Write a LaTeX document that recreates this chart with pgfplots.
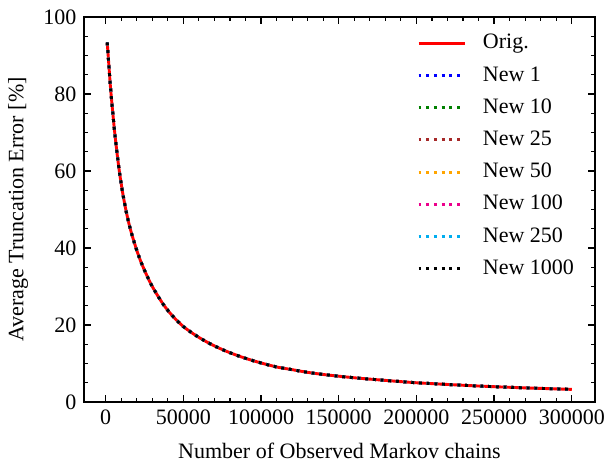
\documentclass[border=0pt]{standalone}
\usepackage{pgfplots}
\usepackage{pgfplotstable}
\pgfplotsset{compat=1.18}
\usepackage{fontspec}
\setmainfont{Liberation Serif}
\definecolor{cbrown}{rgb}{0.65,0.16,0.16}
\definecolor{corange}{rgb}{1,0.647,0}
\definecolor{cgreen}{rgb}{0,0.5,0}
\pgfplotstableread{
x y
1000 93.4
2000 87.8
3000 82.2
4000 77.6
5000 73.3
6000 69.3
7500 64.0
9000 59.3
11000 54.2
13000 49.9
15000 46.3
17000 43.3
20000 39.4
22500 36.6
25000 34.2
27500 32.0
30000 30.0
33500 27.6
37000 25.4
41000 23.3
45500 21.3
50000 19.6
55000 18.1
60000 16.78
65000 15.61
70000 14.57
75000 13.64
80000 12.8
85000 12.04
90000 11.35
95000 10.72
100000 10.14
110000 9.1
120000 8.4
130000 7.7
140000 7.15
150000 6.7
162500 6.2
175000 5.78
187500 5.37
200000 5.0
212500 4.72
225000 4.45
237500 4.2
250000 3.98
262500 3.78
275000 3.6
287500 3.44
300000 3.28
}\errdata
\begin{document}
\fontsize{11}{13}\selectfont
\begin{tikzpicture}
\begin{axis}[
  scale only axis,
  width=255.5pt, height=192.5pt,
  xmin=-13950, xmax=314950,
  ymin=0, ymax=100,
  xtick={0,50000,100000,150000,200000,250000,300000},
  ytick={0,20,40,60,80,100},
  minor x tick num=4,
  minor y tick num=3,
  tick align=inside,
  tick pos=both,
  major tick length=3.5pt,
  minor tick length=1.8pt,
  every tick/.style={black, line width=0.6pt},
  axis line style={line width=0.75pt},
  scaled x ticks=false,
  xticklabel style={/pgf/number format/.cd, fixed, 1000 sep={}},
  /pgf/number format/assume math mode=true,
  tick label style={font=\fontsize{11}{13}\selectfont},
  label style={font=\fontsize{11}{13}\selectfont},
  xlabel={Number of Observed Markov chains},
  xlabel style={yshift=-1.5pt},
  ylabel={Average Truncation Error [\%]},
  legend cell align=left,
  legend style={draw=none, fill=none, at={(0.651,0.96)}, anchor=north west,
    inner sep=0pt, row sep=5.6pt, column sep=8.5pt,
    nodes={inner sep=0pt, text height=8pt, text depth=2.5pt},
    font=\fontsize{11}{13}\selectfont},
  legend image code/.code={\draw[#1] (0pt,0pt) -- (23pt,0pt);},
  every axis plot/.append style={line width=1.45pt, line cap=butt, line join=round, smooth, tension=0.4},
  dotst/.style={dash pattern=on 1.45pt off 2.4pt},
]
\coordinate (ll) at (rel axis cs:0,0);
\coordinate (ur) at (rel axis cs:1,1);
\addplot[red, solid] table[x=x,y=y] {\errdata};
\addlegendentry{Orig.}
\addplot[blue, dotst] table[x=x,y=y] {\errdata};
\addlegendentry{New 1}
\addplot[cgreen, dotst] table[x=x,y=y] {\errdata};
\addlegendentry{New 10}
\addplot[cbrown, dotst] table[x=x,y=y] {\errdata};
\addlegendentry{New 25}
\addplot[corange, dotst] table[x=x,y=y] {\errdata};
\addlegendentry{New 50}
\addplot[magenta, dotst] table[x=x,y=y] {\errdata};
\addlegendentry{New 100}
\addplot[cyan, dotst] table[x=x,y=y] {\errdata};
\addlegendentry{New 250}
\addplot[black, dotst] table[x=x,y=y] {\errdata};
\addlegendentry{New 1000}
\end{axis}
\pgfresetboundingbox
\path ([shift={(-42pt,-35pt)}]ll) rectangle ([shift={(10pt,8.5pt)}]ur);
\end{tikzpicture}
\end{document}
